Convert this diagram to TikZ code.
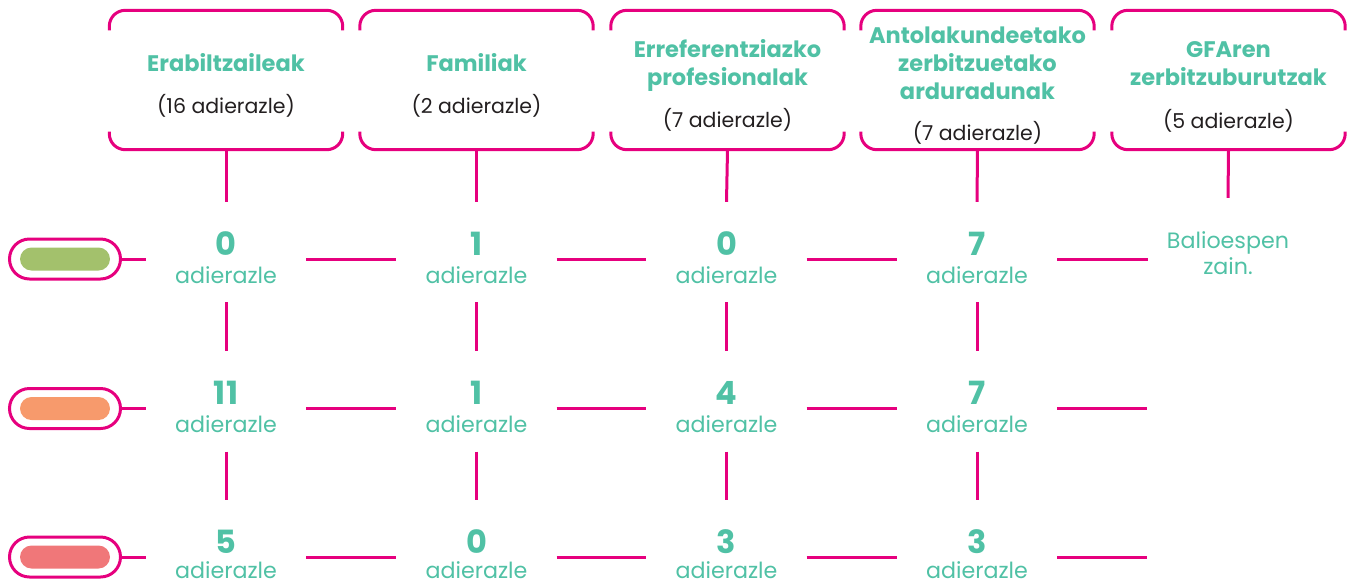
\documentclass[tikz,border=0pt]{standalone}
\usepackage{fontspec}
\setmainfont{Poppins}
\usetikzlibrary{calc}

\definecolor{brandpink}{HTML}{E6007E}
\definecolor{brandteal}{HTML}{50C1A5}
\definecolor{countgray}{HTML}{231F20}
\definecolor{levelgreen}{HTML}{A3C16C}
\definecolor{levelorange}{HTML}{F79A6C}
\definecolor{levelred}{HTML}{F07779}

\tikzset{
  link/.style={draw=brandpink, line width=3pt},
  boxshape/.style={minimum width=233pt, minimum height=139pt, inner sep=0pt},
  cell/.style={minimum width=160pt, minimum height=114pt, inner sep=0pt},
  head/.style={anchor=base, inner sep=0pt, text=brandteal,
    font=\fontsize{22.5}{27}\selectfont\bfseries},
  count/.style={anchor=base, inner sep=0pt, text=countgray,
    font=\fontsize{20.5}{24}\selectfont},
  num/.style={anchor=base, inner sep=0pt, text=brandteal,
    font=\fontsize{32}{36}\selectfont\bfseries},
  unit/.style={anchor=base, inner sep=0pt, text=brandteal,
    font=\fontsize{22.2}{26}\selectfont},
  pillframe/.style={draw=brandpink, line width=3pt, minimum width=111pt,
    minimum height=40pt, rounded corners=20pt, inner sep=0pt},
  pillfill/.style={minimum width=90pt, minimum height=23pt,
    rounded corners=11.5pt, inner sep=0pt},
}

\begin{document}
\begin{tikzpicture}[x=1pt, y=-1pt]
\useasboundingbox (0,0) rectangle (1351,582);

% header boxes (open at the sides)
\node[boxshape] (h1) at (226,80) {};
\node[boxshape] (h2) at (476.5,80) {};
\node[boxshape] (h3) at (727.5,80) {};
\node[boxshape] (h4) at (977.5,80) {};
\node[boxshape] (h5) at (1228.5,80) {};
\foreach \h in {h1,h2,h3,h4,h5}{
  \draw[link, rounded corners=16pt] ([yshift=-20pt]\h.north west) -- (\h.north west)
    -- (\h.north east) -- ([yshift=-20pt]\h.north east);
  \draw[link, rounded corners=16pt] ([yshift=18pt]\h.south west) -- (\h.south west)
    -- (\h.south east) -- ([yshift=18pt]\h.south east);
}

% header texts
\node[head] (t1a) at (226,71) {Erabiltzaileak};
\node[count] (k1) at (226,113) {(16 adierazle)};
\node[head] (t2a) at (476.5,71) {Familiak};
\node[count] (k2) at (476.5,113) {(2 adierazle)};
\node[head] (t3a) at (727.5,57) {Erreferentziazko};
\node[head] (t3b) at (727.5,85) {profesionalak};
\node[count] (k3) at (727.5,127) {(7 adierazle)};
\node[head] (t4a) at (977.5,43) {Antolakundeetako};
\node[head] (t4b) at (977.5,71) {zerbitzuetako};
\node[head] (t4c) at (977.5,99) {arduradunak};
\node[count] (k4) at (977.5,140) {(7 adierazle)};
\node[head] (t5a) at (1228.5,57) {GFAren};
\node[head] (t5b) at (1228.5,85) {zerbitzuburutzak};
\node[count] (k5) at (1228.5,128) {(5 adierazle)};

% level pills
\node[pillframe] (p1) at (65,259) {};
\node[pillfill, fill=levelgreen] (f1) at (p1) {};
\node[pillframe] (p2) at (65,408.5) {};
\node[pillfill, fill=levelorange] (f2) at (p2) {};
\node[pillframe] (p3) at (65,557) {};
\node[pillfill, fill=levelred] (f3) at (p3) {};

% grid cells
\foreach \r/\y in {1/259, 2/408.5, 3/557}{
  \foreach \c/\x in {1/226, 2/476.5, 3/726.5, 4/977}{
    \node[cell] (c\r\c) at (\x,\y) {};
  }
}
\node[cell] (c15) at (1228,259) {};
\coordinate (e25) at (1147,408.5);
\coordinate (e35) at (1147,557);

% cell values (value, then the unit below it)
\foreach \r/\c/\v/\d in {1/1/0/24, 1/2/1/24, 1/3/0/24, 1/4/7/24,
                         2/1/11/24, 2/2/1/24, 2/3/4/24, 2/4/7/24,
                         3/1/5/21, 3/2/0/21, 3/3/3/21, 3/4/3/21}{
  \node[num] (n\r\c) at ([yshift=4pt]c\r\c.center) {\v};
  \node[unit] (u\r\c) at ([yshift=-\d pt]c\r\c.center) {adierazle};
}
\node[unit] (b1) at (1228,248) {Balioespen};
\node[unit] (b2) at (1228,274) {zain.};

% connectors: boxes to first row
\foreach \c in {1,2,3,4}{
  \draw[link] (h\c.south) -- (c1\c.north);
}
\draw[link] (h5.south) -- ([yshift=4pt]c15.north);

% connectors between rows
\foreach \c in {1,2,3,4}{
  \draw[link, shorten <=-14pt] (c1\c.south) -- (c2\c.north);
  \draw[link, shorten <=-14pt] (c2\c.south) -- (c3\c.north);
}

% connectors along the rows
\foreach \r in {1,2,3}{
  \draw[link] (p\r.east) -- (c\r1.west);
  \draw[link] (c\r1.east) -- (c\r2.west);
  \draw[link] (c\r2.east) -- (c\r3.west);
  \draw[link] (c\r3.east) -- (c\r4.west);
}
\draw[link] (c14.east) -- (c15.west);
\draw[link] (c24.east) -- (e25);
\draw[link] (c34.east) -- (e35);
\end{tikzpicture}
\end{document}
